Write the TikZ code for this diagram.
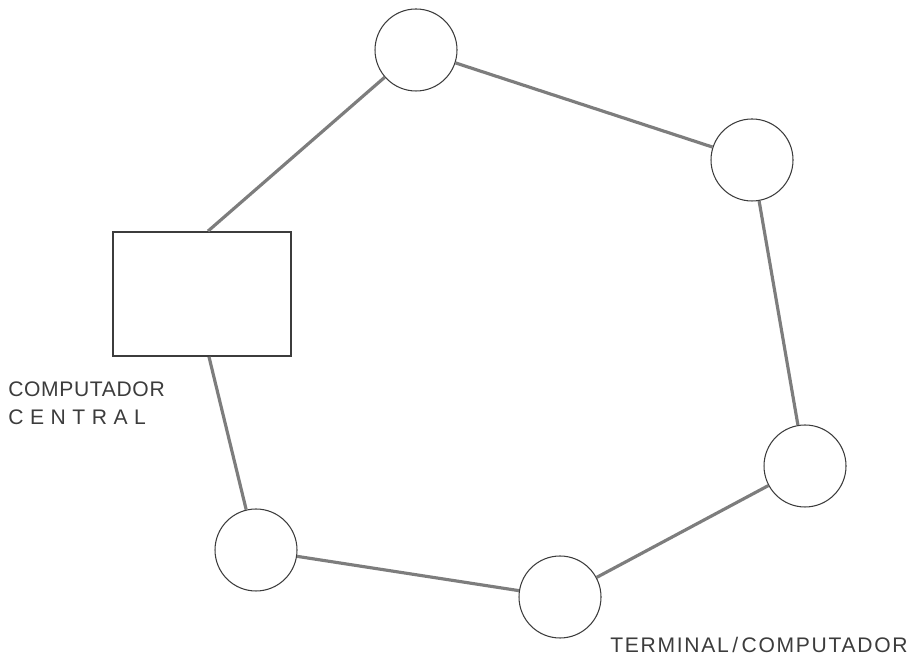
\documentclass[tikz,border=0pt]{standalone}
\usepackage{fontspec}
\setmainfont{Liberation Sans}
\usepackage{xcolor}
\usepackage{tikz}
\usetikzlibrary{positioning, calc, shapes}
\definecolor{linkgray}{RGB}{125, 125, 125}
\definecolor{inkgray}{RGB}{60, 60, 60}

\begin{document}
\begin{tikzpicture}[
    station/.style={circle, draw=inkgray, line width=0.6pt, minimum size=1.64cm, inner sep=0pt},
    hostbox/.style={rectangle, draw=inkgray, line width=1pt, minimum width=3.56cm, minimum height=2.48cm},
    link/.style={draw=linkgray, line width=1.8pt},
    caption/.style={font=\fontsize{12}{16}\selectfont\addfontfeature{LetterSpace=3}, text=inkgray, inner sep=0pt}
  ]
        \useasboundingbox (0,0) rectangle (18.34,13.26);

        % Central computer
        \node[hostbox] (host) at (4.04,7.38) {};

        % Ring stations
        \node[station] (s1) at (8.32,12.26) {};
        \node[station] (s2) at (15.04,10.06) {};
        \node[station] (s3) at (16.10,3.94) {};
        \node[station] (s4) at (11.20,1.32) {};
        \node[station] (s5) at (5.12,2.26) {};

        % Ring links
        \draw[link] ([xshift=0.12cm]host.north) -- (s1);
        \draw[link] (s1) -- (s2);
        \draw[link] (s2) -- (s3);
        \draw[link] (s3) -- (s4);
        \draw[link] (s4) -- (s5);
        \draw[link] (s5) -- ([xshift=0.14cm]host.south);

        % Labels
        \node[caption, anchor=north west, align=left] (hostlabel) at (0.16,5.64)
            {COMPUTADOR\\{\addfontfeature{LetterSpace=31}CENTRAL}};
        \node[caption, anchor=base west, font=\fontsize{12}{16}\selectfont\addfontfeature{LetterSpace=8}] (stationlabel) at (12.2,0.2) {TERMINAL\,/\,COMPUTADOR};
    \end{tikzpicture}
\end{document}
